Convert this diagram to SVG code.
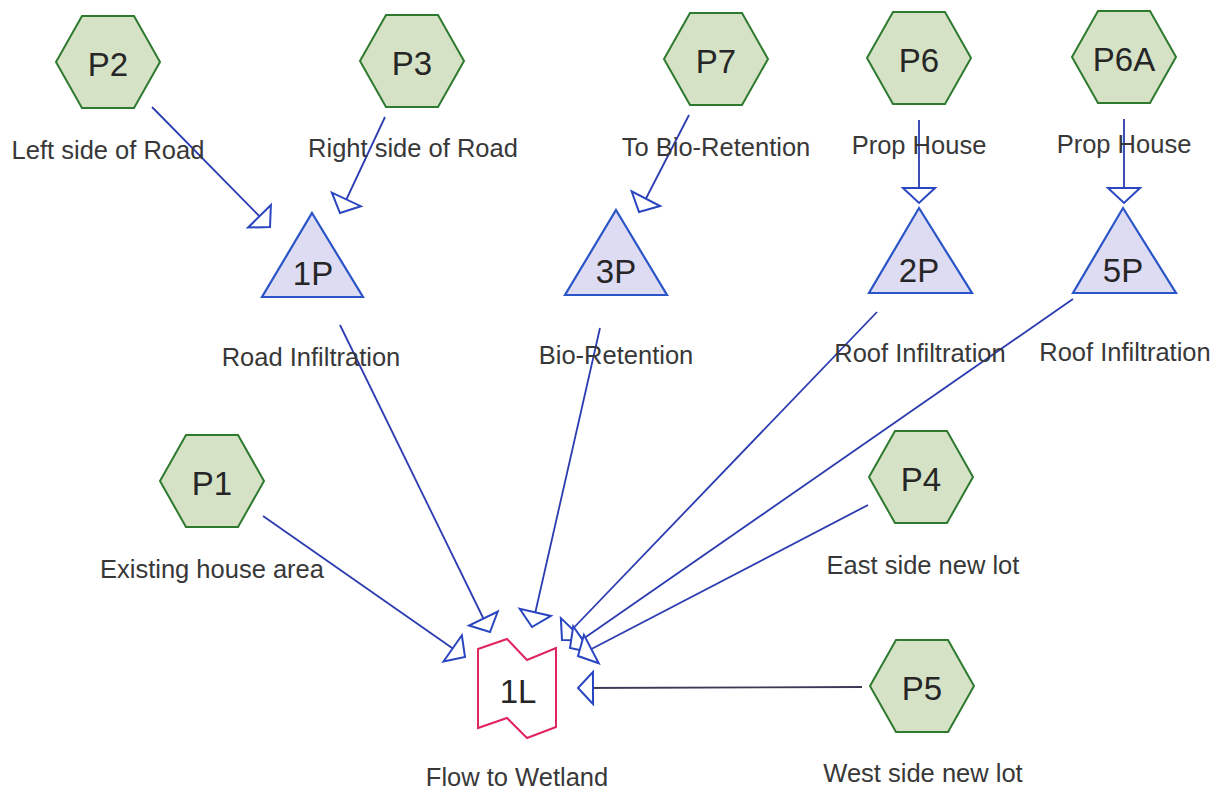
<svg xmlns="http://www.w3.org/2000/svg" width="1220" height="794" viewBox="0 0 1220 794">
<style>
.hex{fill:#d5e2c6;stroke:#2e7a2e;stroke-width:2}
.tri{fill:#dedcf2;stroke:#2a55c8;stroke-width:2.2}
.lk{fill:#fff;stroke:#e0245e;stroke-width:2}
.nl{font-family:"Liberation Sans",Arial,sans-serif;font-size:33px;fill:#262626;text-anchor:middle}
.tl{font-family:"Liberation Sans",Arial,sans-serif;font-size:25.5px;fill:#383838;text-anchor:middle}
.cn{fill:none;stroke:#2b3cb0;stroke-width:1.8;marker-end:url(#ah)}
.cn2{fill:none;stroke:#3a3a58;stroke-width:1.8;marker-end:url(#ah)}
</style>
<defs>
<marker id="ah" markerUnits="userSpaceOnUse" markerWidth="20" markerHeight="36" refX="16" refY="18" orient="auto" overflow="visible">
<path d="M1,2 L16,18 L1,34 Z" fill="#fff" stroke="#2a45c0" stroke-width="2"/>
</marker>
</defs>
<rect width="1220" height="794" fill="#fff"/>
<g id="connectors">
<line class="cn" x1="152" y1="107" x2="270" y2="227"/>
<line class="cn" x1="385" y1="117" x2="340" y2="213"/>
<line class="cn" x1="689" y1="115" x2="639" y2="212"/>
<line class="cn" x1="919" y1="120" x2="919" y2="203"/>
<line class="cn" x1="1124" y1="119" x2="1124" y2="203"/>
<line class="cn" x1="340" y1="325" x2="490" y2="632"/>
<line class="cn" x1="600" y1="328" x2="532" y2="627"/>
<line class="cn" x1="263" y1="516" x2="465" y2="657"/>
<line class="cn" x1="877" y1="312" x2="562" y2="640"/>
<line class="cn" x1="1073" y1="299" x2="570" y2="648"/>
<line class="cn" x1="868" y1="505" x2="578" y2="656"/>
<line class="cn2" x1="862" y1="687" x2="578" y2="688"/>
</g>
<g id="P2"><polygon class="hex" transform="translate(108,62)" points="-52,0 -26,-46 26,-46 52,0 26,46 -26,46"/><text class="nl" x="108" y="76">P2</text><text class="tl" x="108" y="159">Left side of Road</text></g>
<g id="P3"><polygon class="hex" transform="translate(412,61)" points="-52,0 -26,-46 26,-46 52,0 26,46 -26,46"/><text class="nl" x="412" y="75">P3</text><text class="tl" x="413" y="157">Right side of Road</text></g>
<g id="P7"><polygon class="hex" transform="translate(716,59)" points="-52,0 -26,-46 26,-46 52,0 26,46 -26,46"/><text class="nl" x="716" y="73">P7</text><text class="tl" x="716" y="156">To Bio-Retention</text></g>
<g id="P6"><polygon class="hex" transform="translate(919,58)" points="-52,0 -26,-46 26,-46 52,0 26,46 -26,46"/><text class="nl" x="919" y="72">P6</text><text class="tl" x="919" y="154">Prop House</text></g>
<g id="P6A"><polygon class="hex" transform="translate(1124,57)" points="-52,0 -26,-46 26,-46 52,0 26,46 -26,46"/><text class="nl" x="1124" y="71">P6A</text><text class="tl" x="1124" y="153">Prop House</text></g>
<g id="P1"><polygon class="hex" transform="translate(212,481)" points="-52,0 -26,-46 26,-46 52,0 26,46 -26,46"/><text class="nl" x="212" y="495">P1</text><text class="tl" x="212" y="578">Existing house area</text></g>
<g id="P4"><polygon class="hex" transform="translate(921,477)" points="-52,0 -26,-46 26,-46 52,0 26,46 -26,46"/><text class="nl" x="921" y="491">P4</text><text class="tl" x="923" y="574">East side new lot</text></g>
<g id="P5"><polygon class="hex" transform="translate(922,686)" points="-52,0 -26,-46 26,-46 52,0 26,46 -26,46"/><text class="nl" x="922" y="700">P5</text><text class="tl" x="923" y="782">West side new lot</text></g>
<g id="1P"><polygon class="tri" points="312,213 363,297 262,297"/><text class="nl" x="313" y="285">1P</text><text class="tl" x="311" y="366">Road Infiltration</text></g>
<g id="3P"><polygon class="tri" points="616,210 667,295 565,295"/><text class="nl" x="616" y="283">3P</text><text class="tl" x="616" y="364">Bio-Retention</text></g>
<g id="2P"><polygon class="tri" points="919,208 972,293 869,293"/><text class="nl" x="919" y="282">2P</text><text class="tl" x="920" y="362">Roof Infiltration</text></g>
<g id="5P"><polygon class="tri" points="1123,208 1176,293 1073,293"/><text class="nl" x="1123" y="282">5P</text><text class="tl" x="1125" y="361">Roof Infiltration</text></g>
<g id="1L"><polygon class="lk" points="478,649 507,639 527,660 556,648 556,727 527,738 507,718 478,728"/><text class="nl" x="518" y="703">1L</text><text class="tl" x="517" y="786">Flow to Wetland</text></g>
</svg>
